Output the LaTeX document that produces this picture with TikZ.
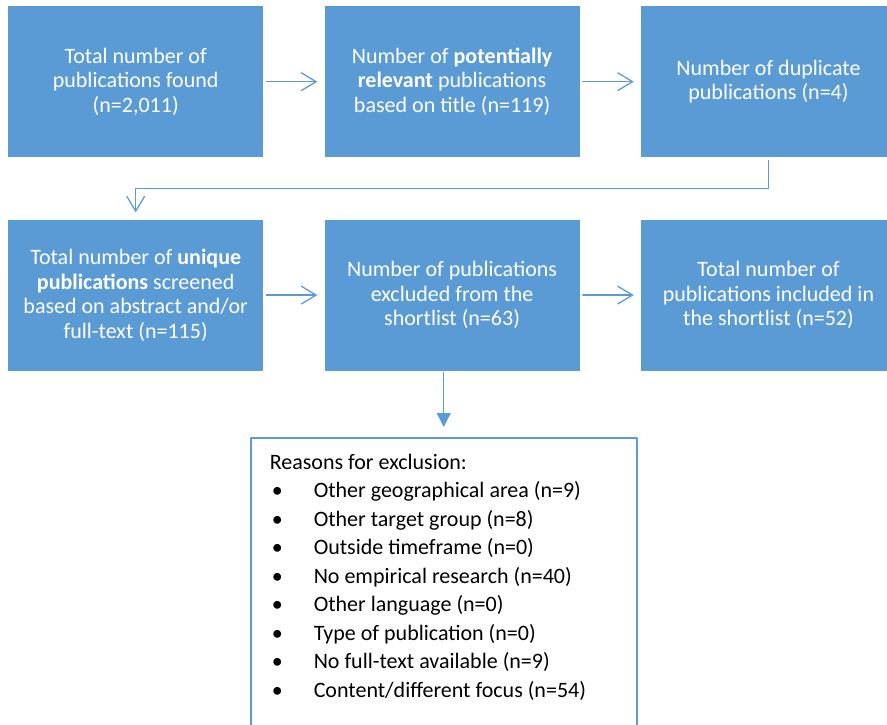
\documentclass[tikz,border=0pt]{standalone}
\usepackage{fontspec}
\setmainfont{Carlito}
\usepackage{xcolor}
\definecolor{boxblue}{HTML}{5B9BD5}
\usetikzlibrary{arrows.meta,positioning}

\newcommand{\reason}[1]{\par\makebox[44pt][l]{\hspace{2pt}\textbullet}#1}

\begin{document}
\begin{tikzpicture}[x=1pt, y=-1pt, line cap=round, line join=round,
		stagebox/.style={fill=boxblue, draw=none, text=white, align=center,
			minimum width=255pt, minimum height=151pt, inner sep=0pt,
			font=\fontsize{22}{24.5}\selectfont},
		listbox/.style={draw=boxblue, line width=1.5pt, fill=white,
			inner xsep=19pt, inner ysep=16pt, font=\fontsize{22}{28.5}\selectfont},
		flow/.style={draw=boxblue, line width=1.3pt, -{Straight Barb[length=15pt,width=18pt]}},
		down/.style={draw=boxblue, line width=1.3pt, -{Triangle[length=14pt,width=14pt]}},
		node distance=61pt and 62pt]
	\useasboundingbox (0,0) rectangle (887,724);

	% first row
	\node[stagebox, anchor=north west] (found) at (8,6) {Total number of\\publications found\\(n=2,011)};
	\node[stagebox, right=61pt of found] (relevant) {Number of \textbf{potentially}\\\textbf{relevant} publications\\based on title (n=119)};
	\node[stagebox, right=61pt of relevant] (duplicate) {Number of duplicate\\publications (n=4)};

	% second row
	\node[stagebox, below=62pt of found] (unique) {Total number of \textbf{unique}\\\textbf{publications} screened\\based on abstract and/or\\full-text (n=115)};
	\node[stagebox, right=61pt of unique] (excluded) {Number of publications\\excluded from the\\shortlist (n=63)};
	\node[stagebox, right=61pt of excluded] (included) {Total number of\\publications included in\\the shortlist (n=52)};

	% reasons
	\node[listbox, anchor=north west] (reasons) at (250,437) {%
		\begin{minipage}[t][300pt][t]{348pt}
			\baselineskip=28.5pt
			Reasons for exclusion:
			\reason{Other geographical area (n=9)}
			\reason{Other target group (n=8)}
			\reason{Outside timeframe (n=0)}
			\reason{No empirical research (n=40)}
			\reason{Other language (n=0)}
			\reason{Type of publication (n=0)}
			\reason{No full-text available (n=9)}
			\reason{Content/different focus (n=54)}
		\end{minipage}};

	\draw[flow, shorten <=3pt, shorten >=7pt] (found) -- (relevant);
	\draw[flow, shorten <=3pt, shorten >=7pt] (relevant) -- (duplicate);
	\draw[flow, shorten <=3pt, shorten >=7pt] (unique) -- (excluded);
	\draw[flow, shorten <=3pt, shorten >=7pt] (excluded) -- (included);
	\draw[flow, shorten <=3pt, shorten >=7pt] (duplicate.south) -- ++(0,31) -| (unique.north);
	\draw[down, shorten <=2pt, shorten >=10pt] (reasons.north |- excluded.south) -- (reasons.north);
\end{tikzpicture}
\end{document}
